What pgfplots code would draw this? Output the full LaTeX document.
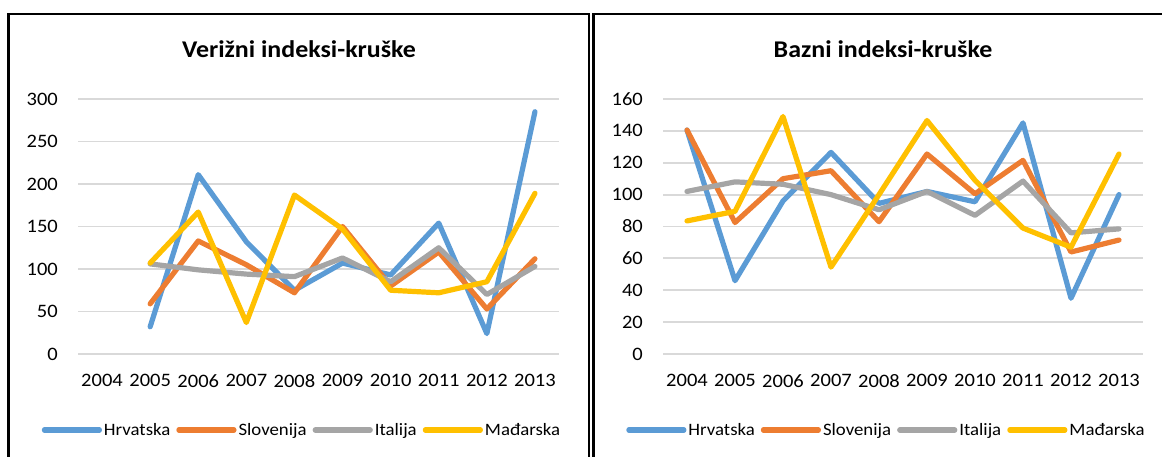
\documentclass[border=0pt]{standalone}
\usepackage{fontspec}
\setmainfont{Carlito}[FakeStretch=1.08]
\usepackage{pgfplots}
\pgfplotsset{compat=1.18}

\definecolor{xblue}{HTML}{5B9BD5}
\definecolor{xorange}{HTML}{ED7D31}
\definecolor{xgray}{HTML}{A5A5A5}
\definecolor{xyellow}{HTML}{FFC000}
\definecolor{gridgray}{HTML}{D9D9D9}

\pgfplotsset{
  excel/.style={
    scale only axis, height=255bp,
    xmin=-0.5, xmax=9.5, ymin=0,
    xtick={0,1,2,3,4,5,6,7,8,9},
    xticklabels={2004,2005,2006,2007,2008,2009,2010,2011,2012,2013},
    axis line style={draw=none}, major tick length=0pt,
    ymajorgrids, grid style={draw=gridgray, line width=1.8bp},
    tick label style={font=\fontsize{19bp}{22bp}\selectfont, inner sep=0pt},
    xticklabel style={anchor=north, yshift=-20bp},
    yticklabel style={anchor=east, xshift=-20bp},
    /pgf/number format/assume math mode=true,
    legend columns=4,
    legend style={draw=none, fill=none, anchor=center,
      font=\fontsize{17.4bp}{20bp}\selectfont,
      nodes={inner xsep=2bp, inner ysep=0pt},
      /tikz/every even column/.append style={column sep=4bp}},
    legend image code/.code={\draw[#1] (0bp,0bp) -- (55bp,0bp);},
    every axis plot/.append style={line width=5.2bp, line join=round, line cap=round},
    clip=false,
  }
}

\begin{document}
\begin{tikzpicture}
\path[use as bounding box] (0bp,0bp) rectangle (1162bp,457bp);

% panel frames
\draw[line width=2.6bp] (8.7bp,-5bp) -- (8.7bp,443bp) -- (589bp,443bp) -- (589bp,-5bp);
\draw[line width=2.6bp] (593.5bp,-5bp) -- (593.5bp,443bp) -- (1170bp,443bp);

% titles
\node[anchor=base, font=\fontsize{24bp}{28bp}\selectfont\bfseries] at (299bp,399bp) {Verižni indeksi-kruške};
\node[anchor=base, font=\fontsize{24bp}{28bp}\selectfont\bfseries] at (883bp,399bp) {Bazni indeksi-kruške};

% chain indices
\begin{axis}[excel, at={(78bp,103bp)}, anchor=south west, width=481bp,
  ymax=300, ytick={0,50,100,150,200,250,300},
  legend style={at={(0.4657,-0.298)}}]
\addplot[xblue] coordinates {(1,32) (2,211) (3,132) (4,75) (5,107) (6,93) (7,154) (8,24) (9,285)};
\addlegendentry{Hrvatska}
\addplot[xorange] coordinates {(1,59) (2,133) (3,105) (4,72) (5,150) (6,80) (7,120) (8,53) (9,112)};
\addlegendentry{Slovenija}
\addplot[xgray] coordinates {(1,106) (2,99) (3,94) (4,91) (5,113) (6,85) (7,125) (8,70) (9,103)};
\addlegendentry{Italija}
\addplot[xyellow] coordinates {(1,107) (2,167) (3,37) (4,187) (5,147) (6,75) (7,72) (8,85) (9,189)};
\addlegendentry{Mađarska}
\end{axis}

% base indices
\begin{axis}[excel, at={(663bp,103bp)}, anchor=south west, width=480bp,
  ymax=160, ytick={0,20,40,60,80,100,120,140,160},
  legend style={at={(0.4656,-0.298)}}]
\addplot[xblue] coordinates {(0,140.5) (1,46) (2,96) (3,126.5) (4,94.5) (5,102) (6,95.5) (7,145) (8,35) (9,100)};
\addlegendentry{Hrvatska}
\addplot[xorange] coordinates {(0,140.5) (1,82.5) (2,110) (3,115) (4,83) (5,125.5) (6,100.5) (7,121.5) (8,64) (9,71.5)};
\addlegendentry{Slovenija}
\addplot[xgray] coordinates {(0,102) (1,108) (2,106.5) (3,100) (4,90.5) (5,102) (6,87) (7,108.5) (8,76) (9,78.5)};
\addlegendentry{Italija}
\addplot[xyellow] coordinates {(0,83.5) (1,89.5) (2,149) (3,54.5) (4,100) (5,146.5) (6,109) (7,79) (8,67) (9,125.5)};
\addlegendentry{Mađarska}
\end{axis}
\end{tikzpicture}
\end{document}
